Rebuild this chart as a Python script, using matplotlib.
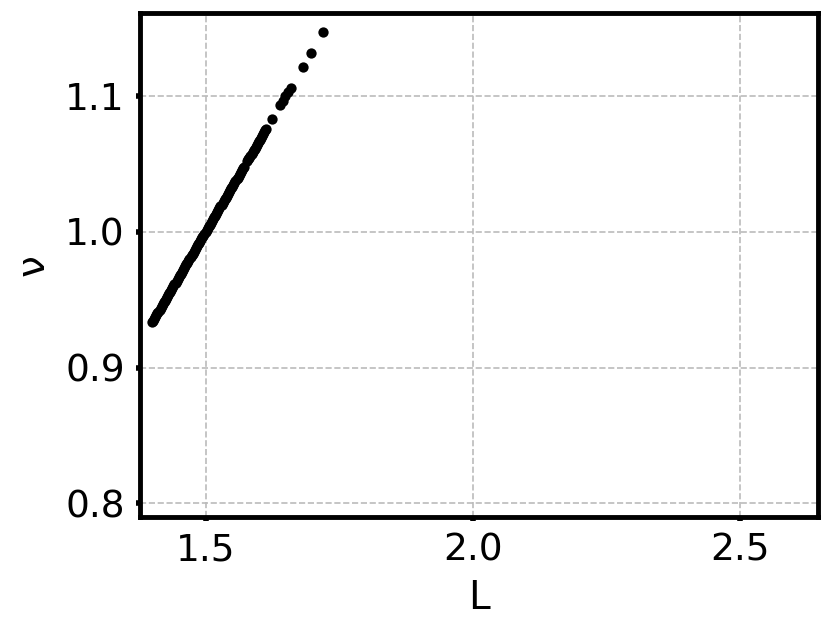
import matplotlib
matplotlib.use("Agg")
import matplotlib.pyplot as plt

# dense part of the curve
L_dense = [1.400, 1.402, 1.404, 1.406, 1.408, 1.410, 1.412, 1.414, 1.416, 1.418,
           1.420, 1.422, 1.424, 1.426, 1.428, 1.430, 1.432, 1.434, 1.436, 1.438,
           1.440, 1.442, 1.444, 1.446, 1.448, 1.450, 1.452, 1.454, 1.456, 1.458,
           1.460, 1.462, 1.464, 1.466, 1.468, 1.470, 1.472, 1.474, 1.476, 1.478,
           1.480, 1.482, 1.484, 1.486, 1.488, 1.490, 1.492, 1.494, 1.496, 1.498,
           1.500, 1.502, 1.504, 1.506, 1.508, 1.510, 1.512, 1.514, 1.516, 1.518,
           1.520, 1.522, 1.524, 1.526, 1.528, 1.530, 1.532, 1.534, 1.536, 1.538,
           1.540, 1.542, 1.544, 1.546, 1.548, 1.550, 1.552, 1.554, 1.556, 1.558,
           1.560, 1.562, 1.564, 1.566, 1.568, 1.570, 1.572]
nu_dense = [0.9333, 0.9347, 0.9360, 0.9373, 0.9387, 0.9400, 0.9413, 0.9427, 0.9440, 0.9453,
            0.9467, 0.9480, 0.9493, 0.9507, 0.9520, 0.9533, 0.9547, 0.9560, 0.9573, 0.9587,
            0.9600, 0.9613, 0.9627, 0.9640, 0.9653, 0.9667, 0.9680, 0.9693, 0.9707, 0.9720,
            0.9733, 0.9747, 0.9760, 0.9773, 0.9787, 0.9800, 0.9813, 0.9827, 0.9840, 0.9853,
            0.9867, 0.9880, 0.9893, 0.9907, 0.9920, 0.9933, 0.9947, 0.9960, 0.9973, 0.9987,
            1.0000, 1.0013, 1.0027, 1.0040, 1.0053, 1.0067, 1.0080, 1.0093, 1.0107, 1.0120,
            1.0133, 1.0147, 1.0160, 1.0173, 1.0187, 1.0200, 1.0213, 1.0227, 1.0240, 1.0253,
            1.0267, 1.0280, 1.0293, 1.0307, 1.0320, 1.0333, 1.0347, 1.0360, 1.0373, 1.0387,
            1.0400, 1.0413, 1.0427, 1.0440, 1.0453, 1.0467, 1.0480]

# upper, sparser points
L_upper = [1.578, 1.580, 1.582, 1.584, 1.586, 1.588, 1.590, 1.592, 1.594, 1.596,
           1.598, 1.600, 1.602, 1.604, 1.606, 1.608, 1.610, 1.612, 1.614,
           1.6246, 1.640, 1.645, 1.6495, 1.654, 1.659, 1.6826, 1.6975, 1.7206]
nu_upper = [1.0520, 1.0533, 1.0547, 1.0560, 1.0573, 1.0587, 1.0600, 1.0613, 1.0627, 1.0640,
            1.0653, 1.0667, 1.0680, 1.0693, 1.0707, 1.0720, 1.0733, 1.0747, 1.0760,
            1.0831, 1.0933, 1.0967, 1.0997, 1.1027, 1.1060, 1.1217, 1.1317, 1.1471]

L_all = L_dense + L_upper
nu_all = nu_dense + nu_upper

fig = plt.figure(figsize=(8.3, 6.32), dpi=100)
ax = fig.add_axes([0.169, 0.182, 0.817, 0.797])

ax.scatter(L_all, nu_all, s=55, color='black', linewidths=0, zorder=3)

ax.set_xlim(1.378, 2.646)
ax.set_ylim(0.790, 1.161)
ax.set_xticks([1.5, 2.0, 2.5])
ax.set_yticks([0.8, 0.9, 1.0, 1.1])
ax.grid(True, linestyle='--', color='#bbbbbb', linewidth=1.2)
ax.set_axisbelow(True)

for sp in ax.spines.values():
    sp.set_linewidth(3.5)
ax.tick_params(axis='both', labelsize=27, width=4, length=3)
ax.tick_params(axis='x', pad=8)
ax.tick_params(axis='y', pad=8)

ax.set_xlabel('L', fontsize=28, labelpad=8)
ax.set_ylabel('ν', fontsize=28, labelpad=10)

fig.savefig("out.png", dpi=100)
